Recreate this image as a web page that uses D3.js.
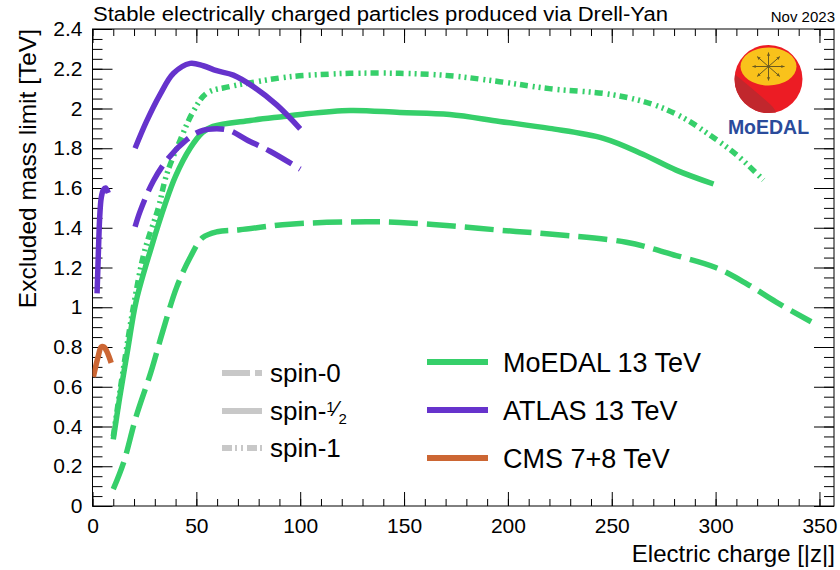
<!DOCTYPE html>
<html><head><meta charset="utf-8">
<script src="https://cdn.jsdelivr.net/npm/d3@7/dist/d3.min.js"></script>
<style>
body{margin:0;background:#fff}
text{font-family:"Liberation Sans",Arial,Helvetica,sans-serif;fill:#000}
</style>
</head><body>
<svg id="chart" width="840" height="570"></svg>
<script>
// ---------- data ----------
const chartTitle = "Stable electrically charged particles produced via Drell-Yan";
const dateLabel = "Nov 2023";
const xTitle = "Electric charge [|z|]";
const yTitle = "Excluded mass limit [TeV]";
const xTickValues = [0, 50, 100, 150, 200, 250, 300, 350];
const yTickValues = [0, 0.2, 0.4, 0.6, 0.8, 1, 1.2, 1.4, 1.6, 1.8, 2, 2.2, 2.4];

// [charge, mass limit TeV]
const moedalSpin0 = [[10,0.085],[15,0.22],[21,0.45],[28,0.67],[34,0.885],[40.5,1.10],[47,1.25],[53,1.35],[60,1.38],[71,1.39],[95,1.418],[132,1.43],[148,1.427],[172,1.41],[196,1.388],[220,1.368],[257,1.327],[281,1.26],[300,1.20],[315,1.118],[329,1.027],[346,0.927]];
const moedalSpinHalf = [[10,0.335],[13,0.54],[17,0.79],[21,1.03],[28,1.29],[35,1.52],[40,1.66],[47,1.80],[53,1.88],[58,1.91],[76,1.94],[92,1.96],[100,1.97],[124,1.99],[148,1.98],[172,1.97],[196,1.935],[220,1.90],[246,1.85],[265,1.77],[281,1.69],[299,1.62]];
const moedalSpin1 = [[10,0.35],[15,0.70],[20,1.02],[25,1.28],[31.7,1.50],[35.7,1.668],[42,1.835],[48.5,1.985],[55,2.077],[66,2.11],[79,2.135],[95,2.16],[114,2.173],[124,2.177],[148,2.177],[172,2.165],[196,2.135],[220,2.10],[250,2.07],[270,2.02],[285,1.95],[297,1.868],[310,1.768],[323,1.64]];
const atlasSpinHalfLow = [[2.2,1.07],[2.6,1.2],[3.0,1.33],[3.5,1.46],[4.2,1.55],[5.2,1.59],[6.3,1.60],[7.6,1.575]];
const atlasSpinHalf = [[20.5,1.80],[26,1.935],[32.5,2.07],[39,2.177],[47,2.227],[53.3,2.215],[59.8,2.19],[67.8,2.168],[77.4,2.11],[88.7,2.018],[100,1.898]];
const atlasSpin0 = [[20.5,1.405],[23,1.485],[29.3,1.635],[36.5,1.75],[45.4,1.843],[51.8,1.885],[59.8,1.898],[66.2,1.888],[74.2,1.843],[85.5,1.785],[100,1.695]];
const cmsSpinHalf = [[0.4,0.65],[1.5,0.70],[2.8,0.755],[4.2,0.80],[5.5,0.80],[6.8,0.78],[8,0.75],[9,0.72]];

const experimentNames = ["MoEDAL 13 TeV", "ATLAS 13 TeV", "CMS 7+8 TeV"];
const experimentColors = ["#36cf6a", "#6633cc", "#cc6633"];
const spinNames = ["spin-0", "spin-\u00BD", "spin-1"];

// ---------- layout ----------
const svg = d3.select("#chart");
const X0 = 92.5, X1 = 834, Y0 = 506, Y1 = 29;
const x = d3.scaleLinear().domain([0, 357]).range([X0, X1]);
const y = d3.scaleLinear().domain([0, 2.4]).range([Y0, Y1]);
const dashes = {"spin-0": "29,9", "spin-\u00BD": null, "spin-1": "8,5,2,4,2,4"};
const lw = 5.5;

svg.append("defs").append("clipPath").attr("id","plotclip")
  .append("rect").attr("x", X0).attr("y", Y1).attr("width", X1 - X0).attr("height", Y0 - Y1);

const fmtY = d => String(+d.toFixed(1));
function styleAxis(g){ g.select(".domain").remove(); g.selectAll("line").attr("stroke","#000").attr("stroke-width",1); }

const xMinor = d3.range(0, 357, 10);
const yMinor = d3.range(0, 2.4001, 0.05);

svg.append("g").attr("transform",`translate(0,${Y0})`)
  .call(d3.axisBottom(x).tickValues(xMinor).tickSize(-7).tickFormat("")).call(styleAxis);
svg.append("g").attr("transform",`translate(0,${Y0})`)
  .call(d3.axisBottom(x).tickValues(xTickValues).tickSize(-14).tickPadding(7).tickFormat(d3.format("d")))
  .call(styleAxis)
  .call(g => g.selectAll("text").attr("font-size", 21).attr("dy", "0.95em"));
svg.append("g").attr("transform",`translate(0,${Y1})`)
  .call(d3.axisTop(x).tickValues(xMinor).tickSize(-7).tickFormat("")).call(styleAxis);
svg.append("g").attr("transform",`translate(0,${Y1})`)
  .call(d3.axisTop(x).tickValues(xTickValues).tickSize(-14).tickFormat("")).call(styleAxis);

svg.append("g").attr("transform",`translate(${X0},0)`)
  .call(d3.axisLeft(y).tickValues(yMinor).tickSize(-10).tickFormat("")).call(styleAxis);
svg.append("g").attr("transform",`translate(${X0},0)`)
  .call(d3.axisLeft(y).tickValues(yTickValues).tickSize(-20).tickPadding(10).tickFormat(fmtY))
  .call(styleAxis)
  .call(g => g.selectAll("text").attr("font-size", 21));
svg.append("g").attr("transform",`translate(${X1},0)`)
  .call(d3.axisRight(y).tickValues(yMinor).tickSize(-10).tickFormat("")).call(styleAxis);
svg.append("g").attr("transform",`translate(${X1},0)`)
  .call(d3.axisRight(y).tickValues(yTickValues).tickSize(-20).tickFormat("")).call(styleAxis);

svg.append("rect").attr("x", X0).attr("y", Y1).attr("width", X1 - X0).attr("height", Y0 - Y1)
  .attr("fill","none").attr("stroke","#000").attr("stroke-width",1);

// titles
svg.append("text").attr("x", 93).attr("y", 21).style("font-size", "20px")
  .attr("textLength", 575).attr("lengthAdjust", "spacingAndGlyphs").text(chartTitle);
svg.append("text").attr("x", 835).attr("y", 22).attr("font-size", 15).attr("text-anchor","end").text(dateLabel);
svg.append("text").attr("x", 835).attr("y", 562).attr("font-size", 24).attr("text-anchor","end").text(xTitle);
svg.append("text").attr("transform","translate(36,29) rotate(-90)").attr("font-size", 24.5)
  .attr("text-anchor","end").text(yTitle);

// curves
const line = d3.line().x(d => x(d[0])).y(d => y(d[1])).curve(d3.curveCatmullRom.alpha(0.5));
const series = [
  {data: moedalSpin0, color: experimentColors[0], spin: spinNames[0]},
  {data: moedalSpinHalf, color: experimentColors[0], spin: spinNames[1]},
  {data: moedalSpin1, color: experimentColors[0], spin: spinNames[2]},
  {data: atlasSpin0, color: experimentColors[1], spin: spinNames[0]},
  {data: atlasSpinHalf, color: experimentColors[1], spin: spinNames[1]},
  {data: atlasSpinHalfLow, color: experimentColors[1], spin: spinNames[1]},
  {data: cmsSpinHalf, color: experimentColors[2], spin: spinNames[1]}
];
const plot = svg.append("g").attr("clip-path","url(#plotclip)");
plot.selectAll("path.curve").data(series).join("path").attr("class","curve")
  .attr("d", d => line(d.data))
  .attr("fill","none").attr("stroke", d => d.color).attr("stroke-width", lw)
  .attr("stroke-dasharray", d => dashes[d.spin]);

// legend: spin styles
const spinY = [373, 411, 448];
const lg = svg.append("g");
spinNames.forEach((s, i) => {
  lg.append("line").attr("x1", 222).attr("x2", 262).attr("y1", spinY[i]).attr("y2", spinY[i])
    .attr("stroke", "#c8c8c8").attr("stroke-width", 6).attr("stroke-dasharray", i === 0 ? "28,5" : (i === 2 ? "10,3,2,4,2,4" : null));
});
lg.append("text").attr("x", 270).attr("y", spinY[0] + 9).attr("font-size", 26).text("spin-0");
const sh = lg.append("text").attr("x", 270).attr("y", spinY[1] + 9).attr("font-size", 26);
sh.append("tspan").text("spin-");
sh.append("tspan").attr("font-size", 15).attr("dy", -8).text("1");
sh.append("tspan").attr("font-size", 22).attr("dy", 4).text("\u2044");
sh.append("tspan").attr("font-size", 15).attr("dy", 8).text("2");
lg.append("text").attr("x", 270).attr("y", spinY[2] + 9).attr("font-size", 26).text("spin-1");

// legend: experiments
const expY = [362, 410, 458];
experimentNames.forEach((n, i) => {
  lg.append("line").attr("x1", 427).attr("x2", 488).attr("y1", expY[i]).attr("y2", expY[i])
    .attr("stroke", experimentColors[i]).attr("stroke-width", 6);
  lg.append("text").attr("x", 503).attr("y", expY[i] + 9.5).attr("font-size", 27).text(n);
});

// MoEDAL logo
const logo = svg.append("g");
const cx = 768.5, cy = 79, r = 34;
logo.append("clipPath").attr("id","sph").append("circle").attr("cx",cx).attr("cy",cy).attr("r",r);
logo.append("circle").attr("cx",cx).attr("cy",cy).attr("r",r).attr("fill","#ec1c24");
logo.append("path").attr("clip-path","url(#sph)")
  .attr("d", `M${cx-r},${cy-5} Q${cx-18},${cy+8} ${cx-2},${cy+22} Q${cx+8},${cy+30} ${cx+8},${cy+r+2} L${cx-r-2},${cy+r+2} Z`)
  .attr("fill","#c1272d");
logo.append("ellipse").attr("cx",cx).attr("cy",66.5).attr("rx",28).attr("ry",19).attr("fill","#f9c21b");
const arrow = logo.append("g").attr("stroke","#6b5a20").attr("stroke-width",1).attr("fill","#6b5a20");
const acx = cx, acy = 66.5;
d3.range(8).forEach(k => {
  const a = k * Math.PI / 4;
  const ex = acx + Math.cos(a) * 16, ey = acy + Math.sin(a) * 14;
  arrow.append("line").attr("x1",acx).attr("y1",acy).attr("x2",ex).attr("y2",ey);
  const ang = Math.atan2(ey - acy, ex - acx);
  const h = 3.2, w = 1.6;
  const bx = ex - Math.cos(ang)*h, by = ey - Math.sin(ang)*h;
  arrow.append("path").attr("stroke","none")
    .attr("d", `M${ex},${ey} L${bx - Math.sin(ang)*w},${by + Math.cos(ang)*w} L${bx + Math.sin(ang)*w},${by - Math.cos(ang)*w} Z`);
});
logo.append("text").attr("x", cx).attr("y", 134).attr("text-anchor","middle")
  .attr("font-size", 19.5).attr("font-weight","bold").style("fill","#2a4b9b").text("MoEDAL");
</script>
</body></html>
